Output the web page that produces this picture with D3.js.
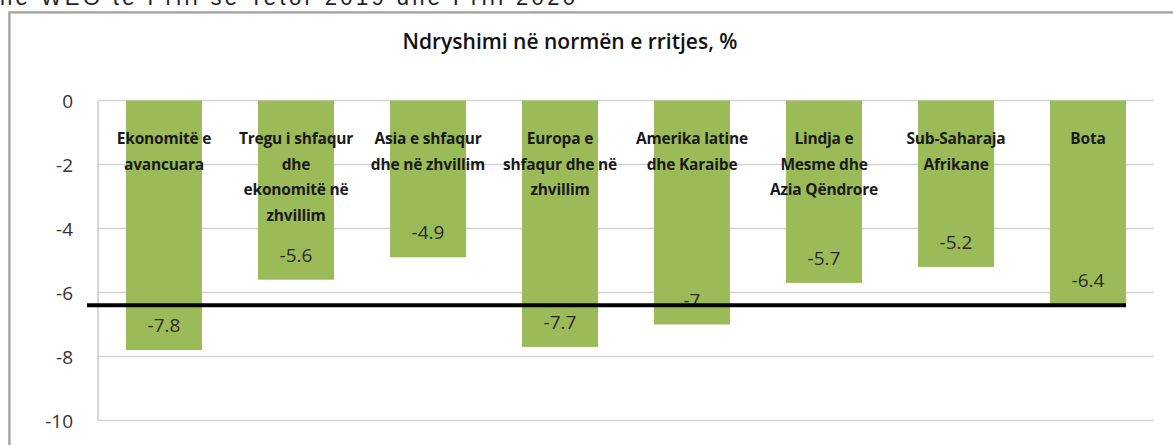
<!DOCTYPE html>
<html>
<head>
<meta charset="utf-8">
<script src="https://cdn.jsdelivr.net/npm/d3@7"></script>
<style>
  body { margin: 0; background: #fff; }
  svg { display: block; }
</style>
</head>
<body>
<svg id="chart" width="1173" height="445"></svg>
<script>
// data
const categories = [
  ["Ekonomitë e", "avancuara"],
  ["Tregu i shfaqur", "dhe", "ekonomitë në", "zhvillim"],
  ["Asia e shfaqur", "dhe në zhvillim"],
  ["Europa e", "shfaqur dhe në", "zhvillim"],
  ["Amerika latine", "dhe Karaibe"],
  ["Lindja e", "Mesme dhe", "Azia Qëndrore"],
  ["Sub-Saharaja", "Afrikane"],
  ["Bota"]
];
const values = [-7.8, -5.6, -4.9, -7.7, -7, -5.7, -5.2, -6.4];
const valueLabels = ["-7.8", "-5.6", "-4.9", "-7.7", "-7", "-5.7", "-5.2", "-6.4"];
const yTicks = [0, -2, -4, -6, -8, -10];
const chartTitle = "Ndryshimi në normën e rritjes, %";
const headerText = "në WEO të Prill se Tetor 2019 dhe Prill 2020";

const svg = d3.select("#chart");
const font = "'Open Sans', 'Liberation Sans', sans-serif";

// caption line at the very top, cut off like in the source image
svg.append("text")
  .attr("x", 0)
  .attr("y", 5)
  .attr("textLength", 575)
  .attr("lengthAdjust", "spacing")
  .style("font-family", "'Liberation Sans', sans-serif")
  .style("font-size", "22px")
  .style("fill", "#222")
  .text(headerText);

// outer chart frame (runs past the window)
svg.append("rect")
  .attr("x", 10).attr("y", 13)
  .attr("width", 1180).attr("height", 460)
  .style("fill", "none")
  .style("stroke", "#c8c8c8")
  .style("stroke-width", 2);
svg.append("rect")
  .attr("x", 9).attr("y", 12)
  .attr("width", 1180).attr("height", 460)
  .style("fill", "none")
  .style("stroke", "#8a8a8a")
  .style("stroke-width", 1.2);

svg.append("text")
  .attr("x", 570)
  .attr("y", 49)
  .attr("text-anchor", "middle")
  .style("font-family", font)
  .style("font-size", "21px")
  .style("font-weight", "600")
  .style("fill", "#111")
  .text(chartTitle);

const margin = { top: 100.5, left: 98, right: 19 };
const plotW = 1173 - margin.left - margin.right;

const x = d3.scaleBand()
  .domain(d3.range(categories.length))
  .range([margin.left, margin.left + plotW])
  .paddingInner(0.424)
  .paddingOuter(0.212);

const y = d3.scaleLinear()
  .domain([0, -10])
  .range([margin.top, margin.top + 320]);

// gridlines
svg.append("g")
  .selectAll("line")
  .data(yTicks)
  .join("line")
  .attr("x1", margin.left)
  .attr("x2", margin.left + plotW)
  .attr("y1", d => y(d))
  .attr("y2", d => y(d))
  .style("stroke", "#d4d4d4")
  .style("stroke-width", 1.6);

// axis line
svg.append("line")
  .attr("x1", margin.left).attr("x2", margin.left)
  .attr("y1", y(0)).attr("y2", y(-10))
  .style("stroke", "#cfcfcf")
  .style("stroke-width", 1.6);

// tick labels
svg.append("g")
  .selectAll("text")
  .data(yTicks)
  .join("text")
  .attr("x", 73)
  .attr("y", d => y(d) + 7)
  .attr("text-anchor", "end")
  .style("font-family", font)
  .style("font-size", "19px")
  .style("fill", "#333")
  .text(d => d);

// bars
svg.append("g")
  .selectAll("rect")
  .data(values)
  .join("rect")
  .attr("x", (d, i) => x(i))
  .attr("y", y(0))
  .attr("width", x.bandwidth())
  .attr("height", d => y(d) - y(0))
  .style("fill", "#9bbb59");

// category labels inside plot
const catG = svg.append("g");
categories.forEach((lines, i) => {
  const t = catG.append("text")
    .attr("text-anchor", "middle")
    .style("font-family", font)
    .style("font-size", "15.5px")
    .style("font-weight", "700")
    .style("letter-spacing", "-0.2px")
    .style("fill", "#1a1a1a");
  lines.forEach((ln, k) => {
    t.append("tspan")
      .attr("x", x(i) + x.bandwidth() / 2)
      .attr("y", 144 + k * 25.5)
      .text(ln);
  });
});

// value labels (inside end)
svg.append("g")
  .selectAll("text")
  .data(values)
  .join("text")
  .attr("x", (d, i) => x(i) + x.bandwidth() / 2)
  .attr("y", d => y(d) - 18)
  .attr("text-anchor", "middle")
  .style("font-family", font)
  .style("font-size", "19px")
  .style("fill", "#2a2a2a")
  .text((d, i) => valueLabels[i]);

// world average line
const world = values[values.length - 1];
const last = values.length - 1;
svg.append("line")
  .attr("x1", margin.left - 11)
  .attr("x2", x(last) + x.bandwidth())
  .attr("y1", y(world))
  .attr("y2", y(world))
  .style("stroke", "#000")
  .style("stroke-width", 4);
</script>
</body>
</html>
